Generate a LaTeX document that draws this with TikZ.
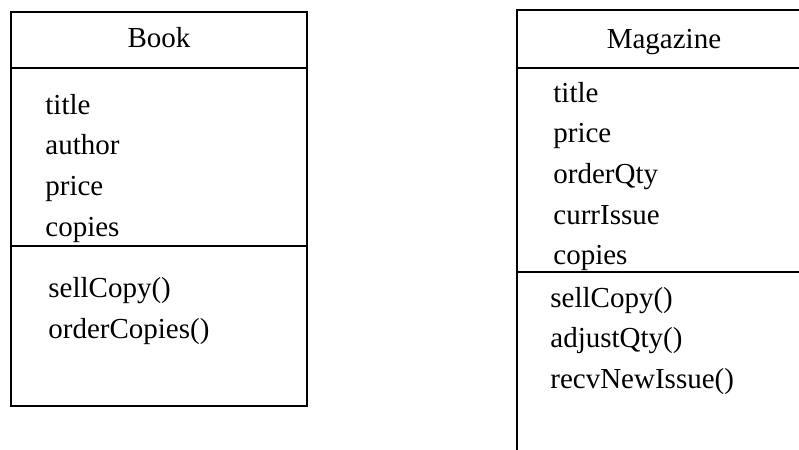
\documentclass[tikz,border=0pt]{standalone}
\usepackage{fontspec}
\setmainfont{Liberation Serif}
\usetikzlibrary{positioning}
\tikzset{
  cls/.style={draw=black, line width=1pt},
  head/.style={font=\fontsize{14.5}{17}\selectfont, anchor=base, inner sep=0pt},
  member/.style={font=\fontsize{14.5}{17}\selectfont, anchor=base west, inner sep=0pt},
}

\begin{document}
\begin{tikzpicture}[x=0.5pt,y=-0.5pt]
  \useasboundingbox (0,0) rectangle (799,450);
  % Book class
  \draw[cls] (11,12) rectangle (307,406);
  \draw[cls] (11,68) -- (307,68);
  \draw[cls] (11,246) -- (307,246);
  \node[head] (book) at (159,47) {Book};
  \foreach \txt [count=\i from 0] in {title,author,price,copies}
    \node[member] (book-a\i) at (45,114+40.7*\i) {\txt};
  \foreach \txt [count=\i from 0] in {sellCopy(),orderCopies()}
    \node[member] (book-m\i) at (48,297+41*\i) {\txt};
  % Magazine class (runs off the page)
  \draw[cls] (799,10) -- (517,10) -- (517,450);
  \draw[cls] (517,68) -- (799,68);
  \draw[cls] (517,272) -- (799,272);
  \node[head] (mag) at (664,48) {Magazine};
  \foreach \txt [count=\i from 0] in {title,price,orderQty,currIssue,copies}
    \node[member] (mag-a\i) at (553,102+40.7*\i) {\txt};
  \foreach \txt [count=\i from 0] in {sellCopy(),adjustQty(),recvNewIssue()}
    \node[member] (mag-m\i) at (550,307+40.5*\i) {\txt};
\end{tikzpicture}
\end{document}
